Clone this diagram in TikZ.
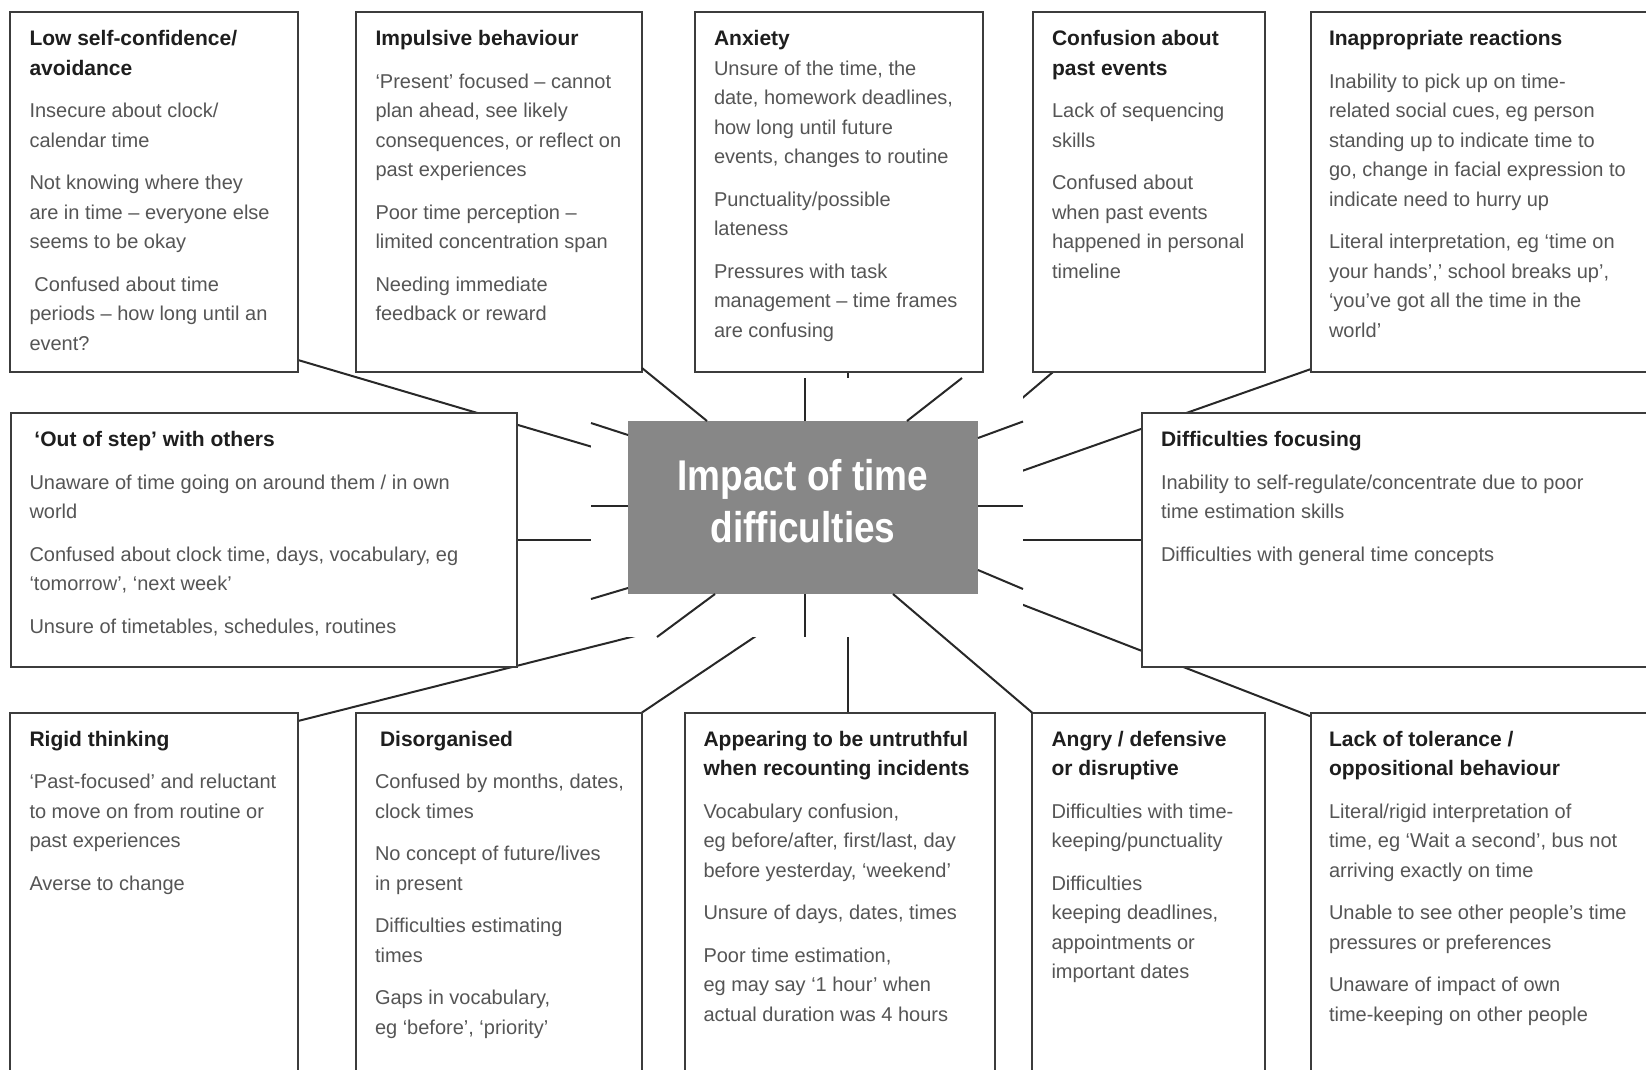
\documentclass[tikz,border=0pt]{standalone}
\usepackage{fontspec}
\setmainfont{Liberation Sans}
\newfontfamily\corefont[FakeStretch=0.86]{Liberation Sans}
\usetikzlibrary{calc}
\definecolor{bodyc}{RGB}{85,85,85}
\definecolor{titlec}{RGB}{30,30,30}
\definecolor{boxc}{RGB}{60,60,60}
\definecolor{linec}{RGB}{40,40,40}
\definecolor{corec}{RGB}{135,135,135}
\pgfdeclarelayer{bg}
\pgfdeclarelayer{fg}
\pgfsetlayers{bg,main,fg}
\newcommand\hd[1]{{\color{titlec}\fontsize{21}{29.5}\selectfont\bfseries #1}}
\begin{document}
\begin{tikzpicture}[x=1pt,y=-1pt,
 boxn/.style={draw=boxc,line width=2pt,fill=white,inner sep=0pt,outer sep=0pt,anchor=north west,rectangle},
 boxtxt/.style={anchor=north west,inner sep=0pt,outer sep=0pt,align=left,text=bodyc,font=\fontsize{20}{29.5}\selectfont},
 conn/.style={draw=linec,line width=2pt},
 corebox/.style={fill=corec,text=white,inner sep=0pt,outer sep=0pt,minimum width=350pt,minimum height=173pt,align=center,font=\corefont\bfseries\fontsize{43}{52}\selectfont}]
\useasboundingbox (0,0) rectangle (1646,1069);

% ---------- boxes ----------
\node[boxn,minimum width=288pt,minimum height=360pt] (b1) at (10,12) {};
\node[boxn,minimum width=286pt,minimum height=360pt] (b2) at (356,12) {};
\node[boxn,minimum width=288pt,minimum height=360pt] (b3) at (695,12) {};
\node[boxn,minimum width=232pt,minimum height=360pt] (b4) at (1033,12) {};
\node[boxn,minimum width=360pt,minimum height=360pt] (b5) at (1311,12) {};
\node[boxn,minimum width=506.5pt,minimum height=254pt] (lm) at (10.5,413) {};
\node[boxn,minimum width=520pt,minimum height=254pt] (rm) at (1141.5,413) {};
\node[boxn,minimum width=288pt,minimum height=380pt] (r1) at (10,712.5) {};
\node[boxn,minimum width=286pt,minimum height=380pt] (r2) at (356,712.5) {};
\node[boxn,minimum width=310pt,minimum height=380pt] (r3) at (685,712.5) {};
\node[boxn,minimum width=233pt,minimum height=380pt] (r4) at (1032,712.5) {};
\node[boxn,minimum width=360pt,minimum height=380pt] (r5) at (1311,712.5) {};

% ---------- texts ----------
\node[boxtxt] (b1t) at ($(b1.north west)+(19.5,12.85)$) {\strut\hd{Low self-confidence/}\\
\hd{avoidance}\\[13pt]
Insecure about clock/\\
calendar time\\[13pt]
Not knowing where they\\
are in time -- everyone else\\
seems to be okay\\[13pt]
\hspace*{5pt}Confused about time\\
periods -- how long until an\\
event?};

\node[boxtxt] (b2t) at ($(b2.north west)+(19.5,12.85)$) {\strut\hd{Impulsive behaviour}\\[13pt]
`Present' focused -- cannot\\
plan ahead, see likely\\
consequences, or reflect on\\
past experiences\\[13pt]
Poor time perception --\\
limited concentration span\\[13pt]
Needing immediate\\
feedback or reward};

\node[boxtxt] (b3t) at ($(b3.north west)+(19,12.85)$) {\strut\hd{Anxiety}\\
Unsure of the time, the\\
date, homework deadlines,\\
how long until future\\
events, changes to routine\\[13pt]
Punctuality/possible\\
lateness\\[13pt]
Pressures with task\\
management -- time frames\\
are confusing};

\node[boxtxt] (b4t) at ($(b4.north west)+(19,12.85)$) {\strut\hd{Confusion about}\\
\hd{past events}\\[13pt]
Lack of sequencing\\
skills\\[13pt]
Confused about\\
when past events\\
happened in personal\\
timeline};

\node[boxtxt] (b5t) at ($(b5.north west)+(18,12.85)$) {\strut\hd{Inappropriate reactions}\\[13pt]
Inability to pick up on time-\\
related social cues, eg person\\
standing up to indicate time to\\
go, change in facial expression to\\
indicate need to hurry up\\[13pt]
Literal interpretation, eg `time on\\
your hands',' school breaks up',\\
`you've got all the time in the\\
world'};

\node[boxtxt] (lmt) at ($(lm.north west)+(19,12.85)$) {\strut\hd{\hspace*{5pt}`Out of step' with others}\\[13pt]
Unaware of time going on around them / in own\\
world\\[13pt]
Confused about clock time, days, vocabulary, eg\\
`tomorrow', `next week'\\[13pt]
Unsure of timetables, schedules, routines};

\node[boxtxt] (rmt) at ($(rm.north west)+(19.5,12.85)$) {\strut\hd{Difficulties focusing}\\[13pt]
Inability to self-regulate/concentrate due to poor\\
time estimation skills\\[13pt]
Difficulties with general time concepts};

\node[boxtxt] (r1t) at ($(r1.north west)+(19.5,12.85)$) {\strut\hd{Rigid thinking}\\[13pt]
`Past-focused' and reluctant\\
to move on from routine or\\
past experiences\\[13pt]
Averse to change};

\node[boxtxt] (r2t) at ($(r2.north west)+(19,12.85)$) {\strut\hd{\hspace*{5pt}Disorganised}\\[13pt]
Confused by months, dates,\\
clock times\\[13pt]
No concept of future/lives\\
in present\\[13pt]
Difficulties estimating\\
times\\[13pt]
Gaps in vocabulary,\\
eg `before', `priority'};

\node[boxtxt] (r3t) at ($(r3.north west)+(18.5,12.85)$) {\strut\hd{Appearing to be untruthful}\\
\hd{when recounting incidents}\\[13pt]
Vocabulary confusion,\\
eg before/after, first/last, day\\
before yesterday, `weekend'\\[13pt]
Unsure of days, dates, times\\[13pt]
Poor time estimation,\\
eg may say `1 hour' when\\
actual duration was 4 hours};

\node[boxtxt] (r4t) at ($(r4.north west)+(19.5,12.85)$) {\strut\hd{Angry / defensive}\\
\hd{or disruptive}\\[13pt]
Difficulties with time-\\
keeping/punctuality\\[13pt]
Difficulties\\
keeping deadlines,\\
appointments or\\
important dates};

\node[boxtxt] (r5t) at ($(r5.north west)+(18,12.85)$) {\strut\hd{Lack of tolerance /}\\
\hd{oppositional behaviour}\\[13pt]
Literal/rigid interpretation of\\
time, eg `Wait a second', bus not\\
arriving exactly on time\\[13pt]
Unable to see other people's time\\
pressures or preferences\\[13pt]
Unaware of impact of own\\
time-keeping on other people};

% ---------- centre ----------
\begin{pgfonlayer}{fg}
\fill[white] (591,378) rectangle (1023,637);
\node[corebox] (core) at (803,507.5) {\rule{0pt}{35pt}Impact of time\\difficulties\rule[-16.6pt]{0pt}{16.6pt}};
\end{pgfonlayer}

% ---------- free ends ----------
\coordinate (e1) at (600,449.2);
\coordinate (e3) at (848,392);
\coordinate (e4) at (1010,408.5);
\coordinate (e5) at (1010,475.2);
\coordinate (e6) at (1010,540);
\coordinate (e7) at (1010,599.8);
\coordinate (e9) at (848,625);
\coordinate (e10) at (772.4,625);
\coordinate (e11) at (678.8,625);
\coordinate (e12) at (600,540);
\coordinate (s1) at (591,423);
\coordinate (s2) at (591,506);
\coordinate (s3) at (591,599);
\coordinate (s4) at (657,637);
\coordinate (s5) at (805,637);
\coordinate (s6) at (805,378);
\coordinate (s7) at (962,378);
\coordinate (s8) at (1023,421.5);
\coordinate (s9) at (1023,506);
\coordinate (s10) at (1023,589);

% ---------- outer connectors (behind boxes) ----------
\begin{pgfonlayer}{bg}
\draw[conn] ($(b1.south east)+(0,-12)$) -- (e1);
\draw[conn] ($(b3.south)+(9,0)$) -- (e3);
\draw[conn] ($(b4.south west)+(20,0)$) -- (e4);
\draw[conn] ($(b5.south west)+(0,-3)$) -- (e5);
\draw[conn] (rm.west) -- (e6);
\draw[conn] ($(r5.north west)+(0,4)$) -- (e7);
\draw[conn] ($(r3.north)+(8,0)$) -- (e9);
\draw[conn] (r2.north east) -- (e10);
\draw[conn] ($(r1.north east)+(0,8.5)$) -- (e11);
\draw[conn] (lm.east) -- (e12);
\end{pgfonlayer}

% ---------- centre stubs and through connectors ----------
\begin{pgfonlayer}{fg}
\draw[conn] ($(b2.south east)+(0,-4)$) -- ($(core.north west)+(79,0)$);
\draw[conn] (r4.north west) -- ($(core.south east)+(-85,0)$);
\draw[conn] ($(core.north west)+(0,14)$) -- (s1);
\draw[conn] ($(core.west)+(0,-1.5)$) -- (s2);
\draw[conn] ($(core.south west)+(0,-6)$) -- (s3);
\draw[conn] ($(core.south west)+(87,0)$) -- (s4);
\draw[conn] ($(core.south)+(2,0)$) -- (s5);
\draw[conn] ($(core.north)+(2,0)$) -- (s6);
\draw[conn] ($(core.north east)+(-71,0)$) -- (s7);
\draw[conn] ($(core.north east)+(0,17)$) -- (s8);
\draw[conn] ($(core.east)+(0,-1.5)$) -- (s9);
\draw[conn] ($(core.south east)+(0,-24)$) -- (s10);
\end{pgfonlayer}
\end{tikzpicture}
\end{document}
